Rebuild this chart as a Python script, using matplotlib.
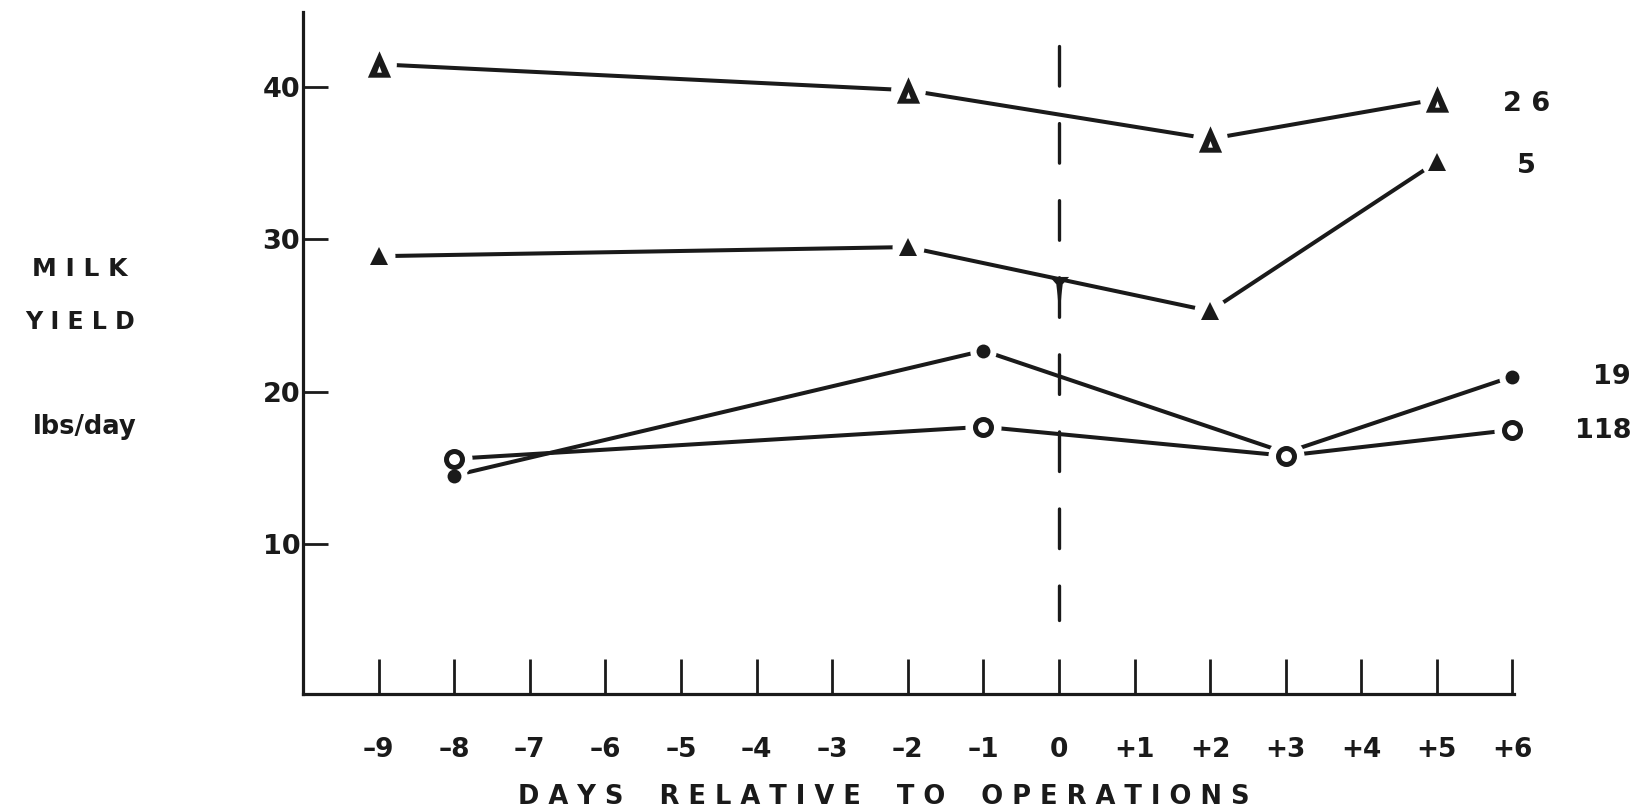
import matplotlib
matplotlib.use("Agg")
import matplotlib.pyplot as plt
import numpy as np
from matplotlib.path import Path

plt.rcParams['font.family'] = ['DejaVu Sans']

# ---- data ----
x_ticks = [-9, -8, -7, -6, -5, -4, -3, -2, -1, 0, 1, 2, 3, 4, 5, 6]
x_tick_labels = ['–9', '–8', '–7', '–6', '–5', '–4', '–3', '–2', '–1', '0',
                 '+1', '+2', '+3', '+4', '+5', '+6']
y_ticks = [10, 20, 30, 40]

days_26 = [-9, -2, 2, 5]
milk_26 = [41.5, 39.8, 36.6, 39.2]
days_5 = [-9, -2, 2, 5]
milk_5 = [28.9, 29.5, 25.3, 35.1]
days_19 = [-8, -1, 3, 6]
milk_19 = [14.5, 22.7, 16.0, 21.0]
days_118 = [-8, -1, 3, 6]
milk_118 = [15.6, 17.7, 15.8, 17.5]

series_names = ['2 6', '5', '19', '118']

FW = 'bold'
INK = '#1a1a1a'

fig = plt.figure(figsize=(16.35, 8.11), dpi=100)
ax = fig.add_axes([0.1853, 0.1443, 0.7407, 0.8403])
ax.set_xlim(-10.0, 6.02)
ax.set_ylim(0.16, 44.9)

for s in ['top', 'right']:
    ax.spines[s].set_visible(False)
for s in ['left', 'bottom']:
    ax.spines[s].set_linewidth(2.3)
    ax.spines[s].set_color(INK)

ax.set_xticks(x_ticks)
ax.set_xticklabels(x_tick_labels)
ax.set_yticks(y_ticks)
ax.tick_params(axis='x', direction='in', length=25, width=2.0, color=INK,
               pad=31, labelsize=19, labelcolor=INK)
ax.tick_params(axis='y', direction='in', length=18, width=2.0, color=INK,
               pad=2, labelsize=19.5, labelcolor=INK)
for lab in ax.get_xticklabels() + ax.get_yticklabels():
    lab.set_fontweight(FW)

# operation day dashed line
lw_d = 2.4
ax.plot([0, 0], [42.7, 5.0], color=INK, lw=lw_d,
        linestyle=(0, (28.5 / lw_d, 27.0 / lw_d)),
        dash_capstyle='round', zorder=1)
# small spike where the 5-line crosses day 0
spike = Path([(-0.3, 0.08), (-0.1, -0.15), (-0.06, -0.5), (-0.02, -1),
              (0.02, -1), (0.06, -0.5), (0.1, -0.15), (0.3, 0.08), (-0.3, 0.08)],
             [Path.MOVETO] + [Path.LINETO] * 7 + [Path.CLOSEPOLY])
y_at0 = np.interp(0, days_5, milk_5)
ax.plot([0], [y_at0], marker=spike, ms=46, color=INK, mec=INK, mew=0, ls='none', zorder=2)

# lines
lw = 2.9
for xs, ys in [(days_26, milk_26), (days_5, milk_5), (days_19, milk_19), (days_118, milk_118)]:
    ax.plot(xs, ys, color=INK, lw=lw, solid_capstyle='round', zorder=2)

# white halos producing gaps between line ends and symbols
halo = dict(color='white', mec='none', ls='none', zorder=3, clip_on=False)
ax.plot(days_26, milk_26, 'o', ms=25, **halo)
ax.plot(days_5, milk_5, 'o', ms=23, **halo)
ax.plot(days_19, milk_19, 'o', ms=19, **halo)
ax.plot(days_118, milk_118, 'o', ms=26, **halo)

# symbols
hollow_tri = Path(
    [(0, 1), (-0.88, -1), (0.88, -1), (0, 1),
     (0, -0.12), (0.18, -0.62), (-0.18, -0.62), (0, -0.12)],
    [Path.MOVETO, Path.LINETO, Path.LINETO, Path.CLOSEPOLY,
     Path.MOVETO, Path.LINETO, Path.LINETO, Path.CLOSEPOLY])
ax.plot(days_26, milk_26, marker=hollow_tri, ms=19, color=INK, mew=0, ls='none',
        zorder=4, clip_on=False)
ax.plot(days_5, milk_5, marker='^', ms=13, color=INK, mew=0, ls='none',
        zorder=4, clip_on=False)
ax.plot(days_19, milk_19, marker='o', ms=10, color=INK, mew=0, ls='none',
        zorder=4, clip_on=False)
ax.plot(days_118, milk_118, marker='o', ms=11.5, mfc='white', mec=INK, mew=3.6,
        ls='none', zorder=5, clip_on=False)

# series labels at right
lab_kw = dict(fontsize=19.5, fontweight=FW, color=INK, va='center', clip_on=False)
ax.text(6.19, 38.9, series_names[0], ha='center', **lab_kw)
ax.text(6.19, 34.8, series_names[1], ha='center', **lab_kw)
ax.text(7.57, 21.0, series_names[2], ha='right', **lab_kw)
ax.text(7.57, 17.4, series_names[3], ha='right', **lab_kw)

# y-axis title
fig.text(0.049, 0.668, 'M I L K', ha='center', va='center', fontsize=18, fontweight=FW, color=INK)
fig.text(0.049, 0.603, 'Y I E L D', ha='center', va='center', fontsize=17, fontweight=FW, color=INK)
fig.text(0.052, 0.473, 'lbs/day', ha='center', va='center', fontsize=18.5, fontweight=FW, color=INK)

# x-axis title
fig.text(0.5407, 0.0173, 'D A Y S    R E L A T I V E    T O    O P E R A T I O N S',
         ha='center', va='center', fontsize=18.5, fontweight=FW, color=INK)

fig.savefig('out.png', dpi=100, facecolor='white')
